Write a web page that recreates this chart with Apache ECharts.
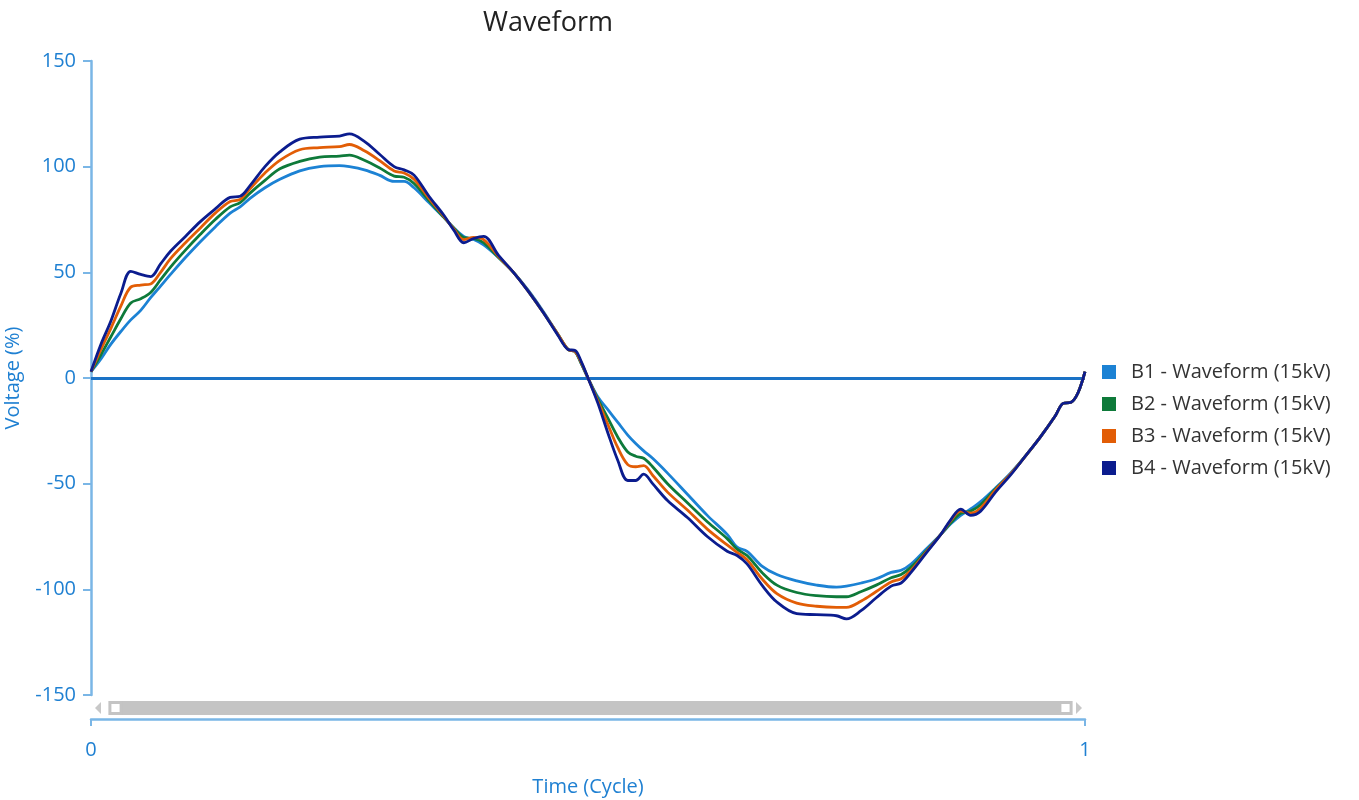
<!DOCTYPE html>
<html>
<head>
<meta charset="utf-8">
<script src="https://cdn.jsdelivr.net/npm/echarts@6/dist/echarts.min.js"></script>
<style>html,body{margin:0;padding:0;background:#fff}#c{width:1359px;height:800px}</style>
</head>
<body>
<div id="c"></div>
<script>
var time = [0,0.01,0.02,0.03,0.04,0.05,0.06,0.07,0.08,0.095,0.11,0.125,0.14,0.15,0.16,0.175,0.19,0.21,0.23,0.25,0.26,0.275,0.29,0.305,0.315,0.325,0.34,0.355,0.365,0.375,0.385,0.395,0.41,0.425,0.44,0.455,0.47,0.48,0.487,0.493,0.5,0.51,0.52,0.53,0.54,0.548,0.556,0.565,0.58,0.6,0.62,0.64,0.65,0.66,0.675,0.69,0.71,0.73,0.75,0.76,0.775,0.79,0.805,0.815,0.825,0.84,0.855,0.865,0.875,0.885,0.895,0.91,0.925,0.94,0.955,0.97,0.978,0.986,0.993,1.0];

var b1 = [3,9,16,22,27.5,32,38,43.5,49,57,64.5,71.5,78,81,85,90,94,98,100,100.5,100,98.5,96,93,93,90,83,76,71,67,65.5,63,57,50,41.5,31.5,20.5,13.5,12.5,7,0,-9,-15,-21,-27,-31,-34.5,-38,-45,-55,-65,-74,-80,-82,-89,-93,-96,-98,-99,-98.5,-97,-95,-92,-91,-88,-81,-74,-69,-65,-62,-58.5,-52,-45,-37,-28,-18,-12,-11.5,-7,3];

var b2 = [3,11,19.5,28,35.5,37.5,40.5,46.5,52.5,60.5,68,75,81,83,87.5,93.5,99,102.5,104.5,105,105.5,103,99.5,95.5,95,92,84,76,71,66.5,66,64,57,50,41,31,20.5,13.5,12.5,7,0,-10,-19,-28,-35,-37,-38,-42,-50,-59,-68,-76,-81,-84,-92,-98,-101.5,-103,-103.5,-103.5,-101,-98,-94.5,-93,-89.5,-82,-74,-68.5,-64,-63,-60,-52.5,-45.5,-37,-28,-18,-12,-11.5,-7,3];

var b3 = [3,13.5,23.5,34,43,44,44.5,50,56.5,64,71,78,83.5,84.5,89.5,97,103,108,109,109.5,110.5,107.5,103,98,97,94,85,76.5,70.5,65.5,66.5,65.5,57.5,50,41,31,20.5,13.5,12.5,7.5,0,-11,-22,-33,-41,-42,-41.5,-46,-54,-62.5,-71.5,-79,-82.5,-86,-95,-102,-106.5,-108,-108.5,-108.5,-105.5,-101,-96.5,-95,-91,-82.5,-74,-67.5,-63,-64,-61.5,-53,-45.5,-37,-28,-18,-12,-11.5,-7,3];

var b4 = [3,16,27,40,50.5,49,48,54,60,67,74,80,85.5,86,91,100,107,113,114,114.5,115.5,112,106,100,98.5,96,86,77,70,64,66,67,58,50,41,31,20,13.5,13,8,0,-12,-26,-39,-48.5,-48.5,-45.5,-50,-58,-66,-75,-82,-84,-88,-98,-106,-111.5,-112,-112.5,-114,-110,-104,-98.5,-97,-92,-83,-74,-67,-62,-65,-63,-54,-46,-37,-28,-18,-12,-11.5,-7,3];

var seriesNames = ['B1 - Waveform (15kV)','B2 - Waveform (15kV)','B3 - Waveform (15kV)','B4 - Waveform (15kV)'];
var seriesValues = [b1,b2,b3,b4];
var colors = ['#1c82d4','#0e7a3a','#e25d06','#0b1c8e'];
var yTicks = {min:-150,max:150,interval:50};
var xTicks = {min:0,max:1,interval:1};

function pairs(v){ return time.map(function(t,i){ return [t, v[i]]; }); }

var FONT = 'Open Sans';
var axisBlue = '#7ab6e6';
var labelBlue = '#1f80d2';

var series = seriesValues.map(function(v,i){
  var s = {
    name: seriesNames[i], type:'line', data: pairs(v), smooth:0.35, showSymbol:false,
    lineStyle:{width:2.8,color:colors[i]}, itemStyle:{color:colors[i]}, z: 3+i
  };
  if(i===0){
    s.markLine = {silent:true, symbol:'none', label:{show:false}, animation:false,
      lineStyle:{color:'#1a72c6',width:3,type:'solid'}, data:[{yAxis:0}]};
  }
  return s;
});

var chart = echarts.init(document.getElementById('c'));
chart.setOption({
  animation:false,
  textStyle:{fontFamily:FONT},
  title:{text:'Waveform', left:478, top:5, textStyle:{fontFamily:FONT,fontSize:27,fontWeight:'normal',color:'#222'}},
  grid:{left:91,right:274,top:61,bottom:105,containLabel:false,outerBoundsMode:'none'},
  legend:{orient:'vertical', left:1097, top:357, icon:'rect', itemWidth:14, itemHeight:14, itemGap:12,
    textStyle:{fontFamily:FONT,fontSize:20,color:'#333',padding:[0,0,0,10]}, data:seriesNames},
  xAxis:{type:'value', min:xTicks.min, max:xTicks.max, interval:xTicks.interval, offset:24,
    name:'Time (Cycle)', nameLocation:'middle', nameGap:58,
    nameTextStyle:{fontFamily:FONT,fontSize:20,color:labelBlue},
    axisLine:{show:true,onZero:false,lineStyle:{color:axisBlue,width:2.5}},
    axisTick:{show:true,length:7,lineStyle:{color:axisBlue,width:2}},
    axisLabel:{fontFamily:FONT,fontSize:20,color:labelBlue,margin:21},
    splitLine:{show:false}},
  yAxis:{type:'value', min:yTicks.min, max:yTicks.max, interval:yTicks.interval,
    name:'Voltage (%)', nameLocation:'middle', nameGap:68, nameRotate:90,
    nameTextStyle:{fontFamily:FONT,fontSize:20,color:labelBlue},
    axisLine:{show:true,lineStyle:{color:axisBlue,width:2.5}},
    axisTick:{show:true,length:8,lineStyle:{color:axisBlue,width:2}},
    axisLabel:{fontFamily:FONT,fontSize:20,color:labelBlue,margin:15},
    splitLine:{show:false}},
  dataZoom:[{type:'slider', xAxisIndex:0, start:0, end:100, left:112, right:295, top:701, height:14,
    backgroundColor:'rgba(0,0,0,0)', borderColor:'rgba(0,0,0,0)', fillerColor:'#c4c4c4',
    dataBackground:{lineStyle:{opacity:0},areaStyle:{opacity:0}},
    selectedDataBackground:{lineStyle:{opacity:0},areaStyle:{opacity:0}},
    handleIcon:'path://M0,0 L10,0 L10,10 L0,10 Z', handleSize:'80%',
    handleStyle:{color:'#ffffff',borderColor:'#c4c4c4',borderWidth:3},
    moveHandleSize:0, showDetail:false, brushSelect:false, zoomLock:true,
    emphasis:{handleStyle:{color:'#ffffff',borderColor:'#c4c4c4'}}}],
  graphic:[
    {type:'polygon', shape:{points:[[95,708],[101,702],[101,714]]}, style:{fill:'#c8c8c8'}},
    {type:'polygon', shape:{points:[[1082,708],[1076,702],[1076,714]]}, style:{fill:'#c8c8c8'}}
  ],
  series: series
});
</script>
</body>
</html>
